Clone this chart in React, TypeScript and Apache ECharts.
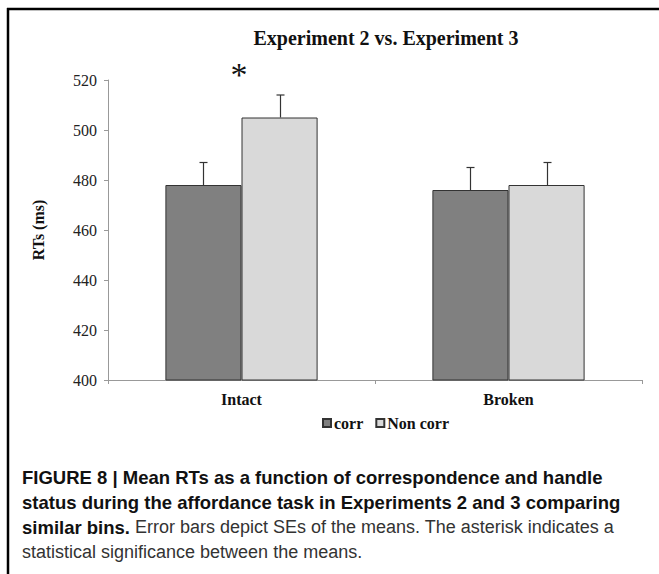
import React, { useEffect, useRef } from "react";
import * as echarts from "echarts";

const categories = ["Intact", "Broken"];
const seriesNames = ["corr", "Non corr"];
const corrValues = [478, 476];
const nonCorrValues = [505, 478];
const corrSE = [9, 9];
const nonCorrSE = [9, 9];
const yMin = 400;
const yMax = 520;
const yInterval = 20;
const chartTitle = "Experiment 2 vs. Experiment 3";
const yAxisName = "RTs (ms)";
const significanceMark = "*";
const captionBold1 = "FIGURE 8 | Mean RTs as a function of correspondence and handle";
const captionBold2 = "status during the affordance task in Experiments 2 and 3 comparing";
const captionBold3 = "similar bins.";
const captionNormal3 = " Error bars depict SEs of the means. The asterisk indicates a";
const captionNormal4 = "statistical significance between the means.";

const SERIF = "'Liberation Serif', 'Times New Roman', serif";
const SANS = "'Liberation Sans', Arial, sans-serif";
const CAT_GAP = 0.43;

function errorSeries(values: number[], se: number[], side: number) {
  return {
    type: "custom",
    name: "err" + side,
    z: 5,
    data: values.map((v, i) => [i, v, se[i]]),
    renderItem: (params: any, api: any) => {
      const idx = api.value(0);
      const v = api.value(1);
      const e = api.value(2);
      const band = api.size([1, 0])[0];
      const barW = (band * (1 - CAT_GAP)) / 2;
      const base = api.coord([idx, v]);
      const top = api.coord([idx, v + e]);
      const x = Math.round(base[0] + side * barW / 2) + 0.5;
      const style = { stroke: "#333", lineWidth: 1.2 };
      return {
        type: "group",
        children: [
          { type: "line", shape: { x1: x, y1: base[1], x2: x, y2: top[1] }, style },
          { type: "line", shape: { x1: x - 4, y1: top[1], x2: x + 4, y2: top[1] }, style },
        ],
      };
    },
  };
}

export default function App() {
  const ref = useRef<HTMLDivElement>(null);
  useEffect(() => {
    if (!ref.current) return;
    const chart = echarts.init(ref.current, undefined, { renderer: "svg" });
    const option: any = {
      animation: false,
      backgroundColor: "#fff",
      grid: { left: 108, right: 17, top: 80, bottom: 194, containLabel: false },
      legend: {
        data: seriesNames,
        left: 317,
        top: 410,
        icon: "rect",
        itemWidth: 8,
        itemHeight: 8,
        itemGap: 12,
        textStyle: { fontFamily: SERIF, fontWeight: "bold", fontSize: 16, color: "#111", padding: [0, 0, 0, -2] },
      },
      xAxis: {
        type: "category",
        data: categories,
        axisLine: { lineStyle: { color: "#999", width: 1 } },
        axisTick: { show: true, length: 4, lineStyle: { color: "#999" } },
        axisLabel: { fontFamily: SERIF, fontWeight: "bold", fontSize: 16, color: "#111", margin: 11 },
      },
      yAxis: {
        type: "value",
        min: yMin,
        max: yMax,
        interval: yInterval,
        name: yAxisName,
        nameLocation: "middle",
        nameGap: 62,
        nameRotate: 90,
        nameTextStyle: { fontFamily: SERIF, fontWeight: "bold", fontSize: 16, color: "#111" },
        axisLine: { show: true, lineStyle: { color: "#999", width: 1 } },
        axisTick: { show: true, length: 4, lineStyle: { color: "#999" } },
        splitLine: { show: false },
        axisLabel: { fontFamily: SERIF, fontSize: 16, color: "#222", margin: 11 },
      },
      series: [
        {
          name: seriesNames[0],
          type: "bar",
          data: corrValues,
          barGap: "0%",
          barCategoryGap: "43%",
          itemStyle: { color: "#808080", borderColor: "#333", borderWidth: 1 },
        },
        {
          name: seriesNames[1],
          type: "bar",
          data: nonCorrValues,
          barGap: "0%",
          barCategoryGap: "43%",
          itemStyle: { color: "#d9d9d9", borderColor: "#333", borderWidth: 1 },
        },
        errorSeries(corrValues, corrSE, -1),
        errorSeries(nonCorrValues, nonCorrSE, 1),
      ],
      graphic: [
        { type: "line", shape: { x1: 7, y1: 9, x2: 659, y2: 9 }, style: { stroke: "#000", lineWidth: 2.5 } },
        { type: "line", shape: { x1: 8, y1: 8, x2: 8, y2: 574 }, style: { stroke: "#000", lineWidth: 2.5 } },
        {
          type: "text",
          x: 386,
          y: 38,
          style: { text: chartTitle, fontFamily: SERIF, fontWeight: "bold", fontSize: 20, fill: "#111", align: "center", verticalAlign: "middle" },
        },
        {
          type: "text",
          x: 239,
          y: 74,
          style: { text: significanceMark, fontFamily: SERIF, fontSize: 34, fill: "#111", align: "center", verticalAlign: "middle" },
        },
        {
          type: "text",
          x: 22,
          y: 477,
          style: { text: captionBold1, fontFamily: SANS, fontWeight: "bold", fontSize: 18.5, fill: "#111", align: "left", verticalAlign: "middle" },
        },
        {
          type: "text",
          x: 22,
          y: 502,
          style: { text: captionBold2, fontFamily: SANS, fontWeight: "bold", fontSize: 18.5, fill: "#111", align: "left", verticalAlign: "middle" },
        },
        {
          type: "text",
          x: 22,
          y: 527,
          style: {
            text: "{b|" + captionBold3 + "}{n|" + captionNormal3 + "}",
            align: "left",
            verticalAlign: "middle",
            rich: {
              b: { fontFamily: SANS, fontWeight: "bold", fontSize: 18.5, fill: "#111" },
              n: { fontFamily: SANS, fontSize: 18, fill: "#333" },
            },
          },
        },
        {
          type: "text",
          x: 22,
          y: 552,
          style: { text: captionNormal4, fontFamily: SANS, fontSize: 18, fill: "#333", align: "left", verticalAlign: "middle" },
        },
      ],
    };
    chart.setOption(option);
    return () => chart.dispose();
  }, []);
  return (
    <div
      ref={ref}
      style={{ position: "fixed", left: 0, top: 0, width: 659, height: 574, background: "#fff" }}
    />
  );
}
